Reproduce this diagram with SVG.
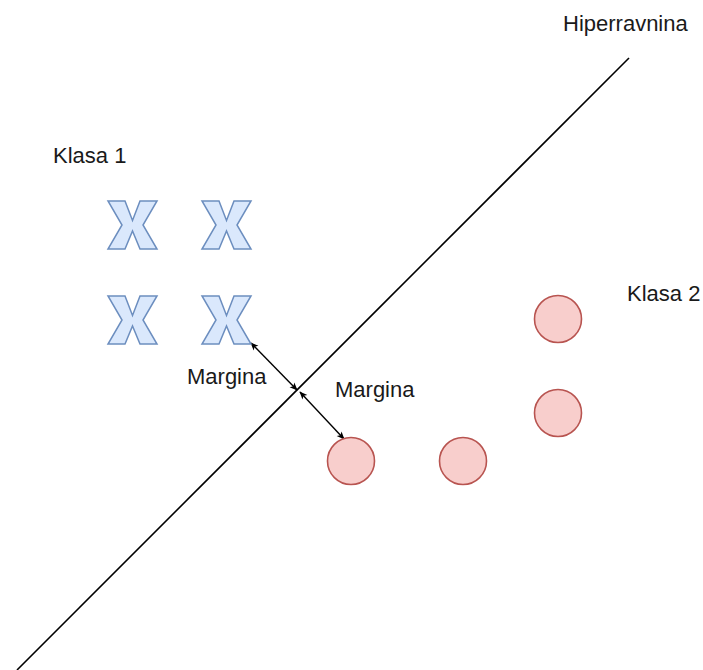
<svg xmlns="http://www.w3.org/2000/svg" width="703" height="670" viewBox="0 0 703 670">
<style>
.lbl{font-family:"Liberation Sans",Arial,sans-serif;font-size:22px;fill:#1a1a1a}
.x{fill:#dae8fc;stroke:#6c8ebf;stroke-width:1.5;stroke-linejoin:miter}
.c{fill:#f8cecc;stroke:#b85450;stroke-width:1.6}
.ln{stroke:#000;stroke-width:1.6;fill:none}
</style>
<defs>
<marker id="ah" viewBox="0 0 10 10" refX="9" refY="5" markerWidth="8" markerHeight="8" orient="auto-start-reverse" markerUnits="userSpaceOnUse">
<path d="M0,0.8 L10,5 L0,9.2 L2.5,5 Z" fill="#000"/>
</marker>
<polygon id="xs" points="0,0 17,0 24.5,19.5 32,0 49,0 35,24 49,48 32,48 24.5,30 17,48 0,48 14,24"/>
</defs>
<g id="connectors">
<line class="ln" x1="629" y1="58" x2="17" y2="670"/>
<line class="ln" x1="251" y1="343" x2="297" y2="390" marker-start="url(#ah)" marker-end="url(#ah)" style="stroke-width:1.4"/>
<line class="ln" x1="300" y1="392" x2="344" y2="439" marker-start="url(#ah)" marker-end="url(#ah)" style="stroke-width:1.4"/>
</g>
<g id="x1"><use href="#xs" class="x" x="108" y="201"/></g>
<g id="x2"><use href="#xs" class="x" x="202" y="201"/></g>
<g id="x3"><use href="#xs" class="x" x="108" y="296"/></g>
<g id="x4"><use href="#xs" class="x" x="202" y="296"/></g>
<g id="c1"><circle class="c" cx="351" cy="461" r="23.5"/></g>
<g id="c2"><circle class="c" cx="463" cy="461" r="23.5"/></g>
<g id="c3"><circle class="c" cx="558" cy="319" r="23.5"/></g>
<g id="c4"><circle class="c" cx="558" cy="413" r="23.5"/></g>
<g id="labels">
<text class="lbl" x="563" y="31">Hiperravnina</text>
<text class="lbl" x="53" y="163">Klasa 1</text>
<text class="lbl" x="627" y="301">Klasa 2</text>
<text class="lbl" x="187" y="384">Margina</text>
<text class="lbl" x="335" y="397">Margina</text>
</g>
</svg>
